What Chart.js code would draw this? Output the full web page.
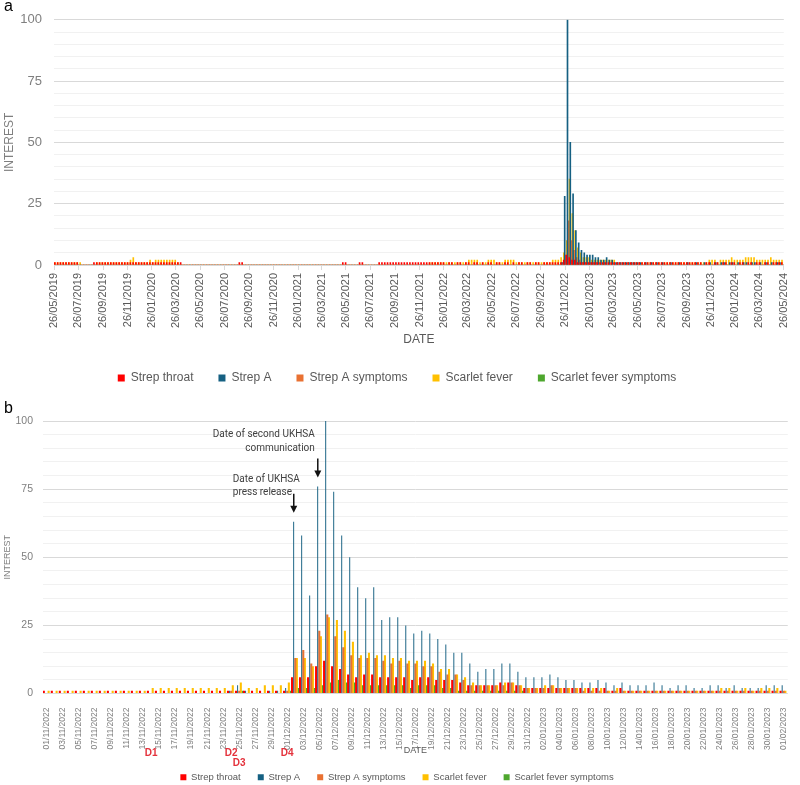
<!DOCTYPE html>
<html>
<head>
<meta charset="utf-8">
<title>Strep A / scarlet fever search interest</title>
<script src="https://cdn.jsdelivr.net/npm/chart.js@4.4.1/dist/chart.umd.min.js"></script>
<style>
  html, body { margin: 0; padding: 0; background: #fff; overflow: hidden; }
  body { width: 800px; height: 785px; position: relative; font-family: 'Liberation Sans', Arial, sans-serif; }
  .wrap { position: absolute; left: 0; }
  .tag { position: absolute; left: 4px; font-size: 16px; color: #000; }
</style>
</head>
<body>
<div class="wrap" style="top:0"><canvas id="chartA" width="800" height="400"></canvas></div>
<div class="wrap" style="top:380px"><canvas id="chartB" width="800" height="412"></canvas></div>
<div class="tag" style="top:-3px">a</div>
<div class="tag" style="top:399px">b</div>

<script>
// Series shown in both panels
const seriesNames = ['Strep throat', 'Strep A', 'Strep A symptoms', 'Scarlet fever', 'Scarlet fever symptoms'];

// Panel a: weekly interest, first week starts 26/05/2019
const weekStartA = '26/05/2019';
const tickLabelsA = [
  '26/05/2019', '26/07/2019', '26/09/2019', '26/11/2019',
  '26/01/2020', '26/03/2020', '26/05/2020', '26/07/2020', '26/09/2020', '26/11/2020',
  '26/01/2021', '26/03/2021', '26/05/2021', '26/07/2021', '26/09/2021', '26/11/2021',
  '26/01/2022', '26/03/2022', '26/05/2022', '26/07/2022', '26/09/2022', '26/11/2022',
  '26/01/2023', '26/03/2023', '26/05/2023', '26/07/2023', '26/09/2023', '26/11/2023',
  '26/01/2024', '26/03/2024', '26/05/2024'
];

const weeklyStrepThroat = [
  1,1,1,1,1,1,1,1,1,1, 0,0,0,0,0,1,1,1,1,1, 1,1,1,1,1,1,1,1,1,1, 1,1,1,1,1,1,1,1,1,1,
  1,1,1,1,1,1,1,0,0,0, 0,0,0,0,0,0,0,0,0,0, 0,0,0,0,0,0,0,1,1,0, 0,0,0,0,0,0,0,0,0,0,
  0,0,0,0,0,0,0,0,0,0, 0,0,0,0,0,0,0,0,0,0, 0,0,0,0,1,1,0,0,0,0, 1,1,0,0,0,0,0,1,1,1,
  1,1,1,1,1,1,1,1,1,1, 1,1,1,1,1,1,1,1,1,1, 1,0,1,1,0,1,1,0,1,1, 0,1,1,0,1,0,1,1,0,1,
  1,0,1,1,0,1,0,1,1,0, 1,1,0,1,1,0,1,1,1,1, 1,1,1,2,4,3,2,2,1,1, 1,1,1,1,1,1,1,1,1,1,
  1,1,1,1,1,1,1,1,1,1, 1,1,1,1,1,1,1,1,1,1, 1,1,1,1,1,1,1,1,1,1, 1,1,1,0,1,1,0,1,1,0,
  1,1,0,1,1,0,1,1,0,1, 1,0,1,1,0,1,1,0,1,1, 1,1
];
const weeklyStrepA = [
  0,0,0,0,0,0,0,0,0,0, 0,0,0,0,0,0,0,0,0,0, 0,0,0,0,0,0,0,0,0,0, 0,0,0,0,0,0,0,0,0,0,
  0,0,0,0,0,0,0,0,0,0, 0,0,0,0,0,0,0,0,0,0, 0,0,0,0,0,0,0,0,0,0, 0,0,0,0,0,0,0,0,0,0,
  0,0,0,0,0,0,0,0,0,0, 0,0,0,0,0,0,0,0,0,0, 0,0,0,0,0,0,0,0,0,0, 0,0,0,0,0,0,0,0,0,0,
  0,0,0,0,0,0,0,0,0,0, 0,0,0,0,0,0,0,0,0,0, 0,0,0,0,0,0,0,0,0,0, 0,0,0,0,0,0,0,0,0,0,
  0,0,0,0,0,0,0,0,0,0, 0,0,0,0,0,0,0,0,0,0, 0,0,1,28,100,50,29,14,9,6, 5,4,4,4,3,3,2,2,3,2,
  2,1,1,1,1,1,1,1,1,1, 1,0,1,0,1,0,1,0,1,0, 0,1,0,0,1,0,0,1,0,0, 1,0,0,1,0,1,0,1,0,1,
  1,0,1,1,0,1,0,1,1,0, 1,1,0,1,0,1,0,1,0,1, 1,0
];
const weeklyStrepASymptoms = [
  0,0,0,0,0,0,0,0,0,0, 0,0,0,0,0,0,0,0,0,0, 0,0,0,0,0,0,0,0,0,0, 0,0,0,0,0,0,0,0,0,0,
  0,0,0,0,0,0,0,0,0,0, 0,0,0,0,0,0,0,0,0,0, 0,0,0,0,0,0,0,0,0,0, 0,0,0,0,0,0,0,0,0,0,
  0,0,0,0,0,0,0,0,0,0, 0,0,0,0,0,0,0,0,0,0, 0,0,0,0,0,0,0,0,0,0, 0,0,0,0,0,0,0,0,0,0,
  0,0,0,0,0,0,0,0,0,0, 0,0,0,0,0,0,0,0,0,0, 0,0,0,0,0,0,0,0,0,0, 0,0,0,0,0,0,0,0,0,0,
  0,0,0,0,0,0,0,0,0,0, 0,0,0,0,0,0,0,0,0,0, 0,0,1,4,18,10,6,3,2,1, 1,1,1,1,1,0,0,0,0,0,
  0,0,0,0,0,0,0,0,0,0, 0,0,0,0,0,0,0,0,0,0, 0,0,0,0,0,0,0,0,0,0, 0,0,0,0,0,0,0,0,0,0,
  0,0,0,0,0,0,0,0,0,0, 0,0,0,0,0,0,0,0,0,0, 0,0
];
const weeklyScarletFever = [
  1,1,1,1,1,1,1,1,1,1, 0,0,0,0,0,1,1,1,1,1, 1,1,1,1,1,1,1,2,3,1, 1,1,1,1,2,1,2,2,2,2,
  2,2,2,2,1,0,0,0,0,0, 0,0,0,0,0,0,0,0,0,0, 0,0,0,0,0,0,0,0,0,0, 0,0,0,0,0,0,0,0,0,0,
  0,0,0,0,0,0,0,0,0,0, 0,0,0,0,0,0,0,0,0,0, 0,0,0,0,0,0,0,0,0,0, 0,0,0,0,0,0,0,0,0,0,
  0,0,0,0,0,0,0,0,0,0, 0,0,0,0,1,1,1,1,1,1, 1,1,1,1,1,1,1,1,2,2, 2,2,1,1,1,2,2,2,1,1,
  1,2,2,2,2,1,1,1,1,1, 1,1,1,1,1,1,1,1,2,2, 2,3,5,10,35,21,14,7,5,3, 3,3,2,2,2,2,2,2,2,2,
  2,1,1,1,1,1,1,1,1,1, 1,1,1,1,1,1,1,1,1,1, 1,1,1,1,1,1,1,1,1,1, 1,1,1,1,2,2,2,1,2,2,
  2,2,3,2,2,2,2,3,3,3, 3,2,2,2,2,2,3,2,2,2, 2,2
];
const weeklyScarletFeverSymptoms = [
  0,0,0,0,0,0,0,0,0,0, 0,0,0,0,0,0,0,0,0,0, 0,0,0,0,0,0,0,0,0,0, 0,0,0,0,0,0,0,0,0,0,
  0,0,0,0,0,0,0,0,0,0, 0,0,0,0,0,0,0,0,0,0, 0,0,0,0,0,0,0,0,0,0, 0,0,0,0,0,0,0,0,0,0,
  0,0,0,0,0,0,0,0,0,0, 0,0,0,0,0,0,0,0,0,0, 0,0,0,0,0,0,0,0,0,0, 0,0,0,0,0,0,0,0,0,0,
  0,0,0,0,0,0,0,0,0,0, 0,0,0,0,0,0,0,0,0,0, 0,0,0,0,0,0,0,0,0,0, 0,0,0,0,0,0,0,0,0,0,
  0,0,0,0,0,0,0,0,0,0, 0,0,0,0,0,0,0,0,0,0, 0,0,0,1,6,4,2,1,1,0, 0,0,0,0,0,0,1,0,0,0,
  0,0,0,0,0,0,0,0,0,0, 0,0,0,0,0,0,0,0,0,0, 0,0,0,0,0,0,0,0,0,0, 0,0,0,0,0,0,0,0,0,0,
  0,0,0,0,0,0,0,0,0,0, 0,0,0,0,0,0,0,0,0,0, 0,0
];

// Panel b: daily interest 01/11/2022 - 01/02/2023
const dayFromB = '01/11/2022';
const dayToB = '01/02/2023';

const dailyStrepThroat = [
  1,1,1,1,1,1,1,1,1,1, 1,1,1,1,1,1,1,1,1,1, 1,1,1,1,1,1,1,1,1,1,
  1,6,6,6,10,12,10,9,7,6, 7,7,6,6,6,6,5,6,6,5, 5,5,4,3,3,3,3,4,4,3,
  2,2,2,2,2,2,2,2,2,2, 2,1,2,1,1,1,1,1,1,1, 1,1,1,1,1,1,1,1,1,1, 1,1,1
];
const dailyStrepA = [
  0,0,0,0,0,0,0,0,0,0, 0,0,0,0,0,0,0,0,0,0, 0,0,0,1,3,1,0,0,1,1,
  2,63,58,36,76,100,74,58,50,39, 35,39,27,28,28,25,22,23,22,20, 18,15,15,11,8,9,9,11,11,8,
  6,6,6,7,6,5,5,4,4,5, 4,3,4,3,3,3,4,3,2,3, 3,2,2,3,3,2,3,2,2,2, 3,3,3
];
const dailyStrepASymptoms = [
  0,0,0,0,0,0,0,0,0,0, 0,0,0,0,0,0,0,0,0,0, 0,0,0,1,1,0,0,0,0,0,
  1,13,16,11,23,29,21,17,14,13, 13,13,12,11,12,11,11,10,10,8, 7,7,5,3,3,3,3,3,4,3,
  2,2,2,3,2,2,2,1,1,1, 1,1,1,1,1,1,1,1,1,1, 1,1,1,1,1,1,1,1,1,1, 1,1,1
];
const dailyScarletFever = [
  1,1,1,1,1,1,1,1,1,1, 1,1,1,2,2,2,2,2,2,2, 2,2,2,3,4,2,2,3,3,3,
  4,13,13,10,21,28,27,23,19,14, 15,14,14,13,13,12,12,12,11,9, 9,7,6,4,3,3,3,4,4,3,
  2,2,3,3,2,2,2,2,2,2, 1,2,1,1,1,1,1,1,1,1, 1,1,1,1,2,2,1,2,1,2, 2,2,1
];
const dailyScarletFeverSymptoms = [
  0,0,0,0,0,0,0,0,0,0, 0,0,0,0,0,0,0,0,0,0, 0,0,0,0,1,0,0,0,0,0,
  1,2,2,2,3,4,5,4,4,3, 3,3,3,3,3,2,3,3,3,2, 2,1,1,1,1,1,1,1,1,1,
  0,0,0,0,0,0,0,0,0,0, 0,0,0,0,0,0,0,0,0,0, 0,0,0,0,0,0,0,0,0,0, 0,0,0
];

// Event markers and notes in panel b
const markerLabels = ['D1', 'D2', 'D3', 'D4'];
const markerDates = ['14/11/2022', '24/11/2022', '25/11/2022', '01/12/2022'];
const noteTexts = [['Date of UKHSA', 'press release'], ['Date of second UKHSA', 'communication']];
const noteDates = ['02/12/2022', '05/12/2022'];

// Colours (Office palette)
const palette = ['#ff0000', '#156082', '#e97132', '#ffc000', '#4ea72e'];
const FONT = "'Liberation Sans', Arial, sans-serif";
Chart.defaults.font.family = FONT;
Chart.defaults.color = '#595959';

function toDay(s) {
  const [d, m, y] = s.split('/').map(Number);
  return Date.UTC(y, m - 1, d) / 864e5;
}
function fmtDay(t) {
  const d = new Date(t * 864e5);
  return String(d.getUTCDate()).padStart(2, '0') + '/' +
    String(d.getUTCMonth() + 1).padStart(2, '0') + '/' + d.getUTCFullYear();
}

const startA = toDay(weekStartA);
const tickDaysA = tickLabelsA.map(s => toDay(s) - startA);
const weekDaysA = weeklyStrepA.map((_, i) => i * 7);

const daysB = [];
for (let t = toDay(dayFromB); t <= toDay(dayToB); t++) daysB.push(fmtDay(t));

const weeklySeries = [weeklyStrepThroat, weeklyStrepA, weeklyStrepASymptoms, weeklyScarletFever, weeklyScarletFeverSymptoms];
const dailySeries = [dailyStrepThroat, dailyStrepA, dailyStrepASymptoms, dailyScarletFever, dailyScarletFeverSymptoms];

// major lines every 25, faint ones every 5
const gridColour = ctx => (ctx.tick && ctx.tick.value % 25 === 0 ? '#d9d9d9' : '#f1f1f1');

// Panel a
new Chart(document.getElementById('chartA'), {
  type: 'bar',
  data: {
    datasets: seriesNames.map((name, k) => ({
      label: name,
      data: weeklySeries[k].map((v, i) => ({ x: weekDaysA[i], y: v })),
      backgroundColor: palette[k],
      barThickness: 1,
    })),
  },
  options: {
    responsive: false,
    animation: false,
    layout: { padding: { top: 7, right: 6, bottom: 6, left: 0 } },
    plugins: {
      legend: {
        position: 'bottom',
        labels: { boxWidth: 7, boxHeight: 7, padding: 25, font: { size: 12 }, color: '#595959' },
      },
      tooltip: { enabled: false },
    },
    scales: {
      x: {
        type: 'linear',
        min: 0,
        max: tickDaysA[tickDaysA.length - 1],
        offset: false,
        afterBuildTicks: s => { s.ticks = tickDaysA.map(v => ({ value: v })); },
        afterFit: s => { s.height = 82; },
        ticks: {
          autoSkip: false, minRotation: 90, maxRotation: 90, padding: 3,
          font: { size: 11 }, color: '#595959',
          callback: (v, i) => tickLabelsA[i],
        },
        grid: { drawOnChartArea: false, drawTicks: true, tickLength: 5, color: '#d9d9d9', offset: false },
        border: { display: false },
        title: { display: true, text: 'DATE', font: { size: 12 }, color: '#595959', padding: 0 },
      },
      y: {
        min: 0,
        max: 100,
        afterFit: s => { s.width = 54; },
        ticks: {
          stepSize: 5, autoSkip: false, padding: 12, font: { size: 13 }, color: '#7f7f7f',
          callback: v => (v % 25 === 0 ? v : ''),
        },
        grid: { color: gridColour, drawTicks: false },
        border: { display: false },
        title: { display: true, text: 'INTEREST', font: { size: 12 }, color: '#7f7f7f', padding: { top: 2, bottom: 0 } },
      },
    },
  },
});

// Notes, arrows and D markers for panel b
const notesPlugin = {
  id: 'notes',
  afterDatasetsDraw(chart) {
    const { ctx, chartArea, scales: { x, y } } = chart;
    ctx.save();

    ctx.fillStyle = '#e4323c';
    ctx.font = 'bold 10px ' + FONT;
    ctx.textAlign = 'center';
    ctx.textBaseline = 'middle';
    let prevX = -100;
    let row = 0;
    markerLabels.forEach((lab, i) => {
      const px = x.getPixelForValue(daysB.indexOf(markerDates[i]));
      row = px - prevX < 12 ? row + 1 : 0;
      ctx.fillText(lab, px, chartArea.bottom + 60 + row * 10);
      prevX = px;
    });

    const layout = [{ align: 'left', dx: -61, dy: -20 }, { align: 'right', dx: -3, dy: -29 }];
    ctx.font = "10px 'Liberation Sans Narrow', Roboto, sans-serif";
    noteTexts.forEach((lines, k) => {
      const i = daysB.indexOf(noteDates[k]);
      const px = x.getPixelForValue(i) - 1.5;
      const tip = y.getPixelForValue(dailyStrepA[i]) - 9;
      const top = tip - 19;

      ctx.strokeStyle = '#111';
      ctx.lineWidth = 1.5;
      ctx.beginPath();
      ctx.moveTo(px, top);
      ctx.lineTo(px, tip - 5);
      ctx.stroke();
      ctx.fillStyle = '#111';
      ctx.beginPath();
      ctx.moveTo(px - 3.5, tip - 7);
      ctx.lineTo(px + 3.5, tip - 7);
      ctx.lineTo(px, tip);
      ctx.closePath();
      ctx.fill();

      const l = layout[k];
      ctx.fillStyle = '#404040';
      ctx.textAlign = l.align;
      lines.forEach((txt, j) => {
        ctx.fillText(txt, px + l.dx, tip + l.dy - (lines.length - 1 - j) * 13.5);
      });
    });
    ctx.restore();
  },
};

// Panel b
new Chart(document.getElementById('chartB'), {
  type: 'bar',
  data: {
    labels: daysB,
    datasets: seriesNames.map((name, k) => ({
      label: name,
      data: dailySeries[k],
      backgroundColor: palette[k],
      categoryPercentage: 1,
      barPercentage: k === 1 ? 0.6 : 1.3,
    })),
  },
  options: {
    responsive: false,
    animation: false,
    layout: { padding: { top: 41, right: 6, bottom: 0, left: 0 } },
    plugins: {
      legend: {
        position: 'bottom',
        labels: { boxWidth: 6, boxHeight: 6, padding: 17, font: { size: 9.5 }, color: '#595959' },
      },
      tooltip: { enabled: false },
    },
    scales: {
      x: {
        afterFit: s => { s.height = 62; },
        ticks: {
          autoSkip: false, minRotation: 90, maxRotation: 90, padding: 6,
          font: { size: 8.5 }, color: '#7f7f7f',
          callback: (v, i) => (i % 2 === 0 ? daysB[i] : ''),
        },
        grid: { display: false },
        border: { display: false },
        title: { display: true, text: 'DATE', font: { size: 9 }, color: '#595959', padding: 0 },
      },
      y: {
        min: 0,
        max: 100,
        afterFit: s => { s.width = 43; },
        ticks: {
          stepSize: 5, autoSkip: false, padding: 10, font: { size: 10.5 }, color: '#7f7f7f',
          callback: v => (v % 25 === 0 ? v : ''),
        },
        grid: { color: gridColour, drawTicks: false },
        border: { display: false },
        title: { display: true, text: 'INTEREST', font: { size: 9 }, color: '#7f7f7f', padding: { top: 2, bottom: 0 } },
      },
    },
  },
  plugins: [notesPlugin],
});
</script>
</body>
</html>
